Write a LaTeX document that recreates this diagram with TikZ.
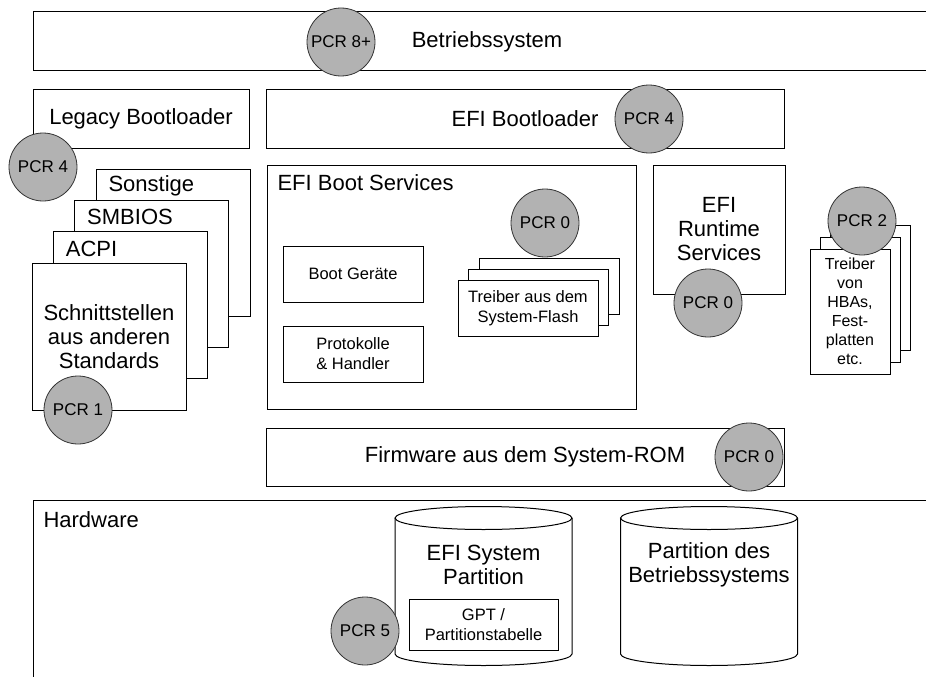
\documentclass[tikz,border=0pt]{standalone}
\usepackage{fontspec}
\setmainfont{Liberation Sans}

\tikzset{
  box/.style={draw, fill=white, line width=1pt, inner sep=0pt},
  pcr/.style={circle, draw=black!80, fill=gray!60, line width=0.8pt, minimum size=68pt, inner sep=0pt, font=\fontsize{17}{20}\selectfont},
  big/.style={font=\fontsize{22}{24}\selectfont, align=center},
  small/.style={font=\fontsize{16.5}{20}\selectfont, align=center},
  tiny/.style={font=\fontsize{16}{19}\selectfont, align=center}
}

\begin{document}
\begin{tikzpicture}[x=1pt, y=-1pt]
\useasboundingbox (0,0) rectangle (926,677);
\clip (0,0) rectangle (926,677);

\node[box, big, minimum width=908pt, minimum height=59pt] (os) at (487,41.5) {Betriebssystem};
\node[box, big, minimum width=216pt, minimum height=59pt] (legacy) at (141,118.5) {Legacy Bootloader};
\node[box, big, minimum width=518pt, minimum height=59pt] (efiboot) at (525,118.5) {EFI Bootloader};

\foreach \k/\txt in {0/Sonstige,1/SMBIOS,2/ACPI} {
  \node[box, minimum width=154pt, minimum height=147pt] (std\k) at (173-21.3*\k,242.5+31.3*\k) {};
  \node[big, anchor=west] (stdlabel\k) at (105-21.3*\k,186+31.3*\k) {\txt};
}
\node[box, big, minimum width=154pt, minimum height=147pt] (std3) at (109,336.5) {Schnittstellen\\aus anderen\\Standards};

\node[box, minimum width=369pt, minimum height=244pt] (bootsrv) at (451.5,287) {};
\node[big, anchor=west] (bootsrvlabel) at (274,183) {EFI Boot Services};
\node[box, small, minimum width=140pt, minimum height=56pt] (geraete) at (353,274) {Boot Geräte};
\node[box, small, minimum width=140pt, minimum height=56pt] (protokolle) at (353,354) {Protokolle\\\& Handler};
\foreach \k in {2,1} {\node[box, minimum width=140pt, minimum height=56pt] (flash\k) at (528+10.5*\k,308.5-11*\k) {};}
\node[box, small, minimum width=140pt, minimum height=56pt] (flash0) at (528,308.5) {Treiber aus dem\\System-Flash};

\node[box, big, minimum width=132pt, minimum height=129pt] (runtime) at (719,229.5) {EFI\\Runtime\\Services};

\foreach \k in {2,1} {\node[box, minimum width=80pt, minimum height=125pt] (hba\k) at (850+10*\k,311.5-12*\k) {};}
\node[box, tiny, minimum width=80pt, minimum height=125pt] (hba0) at (850,311.5) {Treiber\\von\\HBAs,\\Fest-\\platten\\etc.};

\node[box, big, minimum width=518pt, minimum height=58pt] (firmware) at (525,457) {Firmware aus dem System-ROM};

\node[box, minimum width=920pt, minimum height=200pt, anchor=north west] (hardware) at (33,500) {};
\node[big, anchor=west] (hwlabel) at (40,520) {Hardware};

\foreach \cx in {483.5,709} {
  \draw[line width=1pt] (\cx,518) ellipse[x radius=88.5pt, y radius=11.5pt];
  \draw[line width=1pt] (\cx-88.5,518) -- (\cx-88.5,654) arc[start angle=180, end angle=360, x radius=88.5pt, y radius=11.5pt] -- (\cx+88.5,518);
}
\node[big] (esplabel) at (483.5,565) {EFI System\\Partition};
\node[big] (ospartlabel) at (709,565) {Partition des\\Betriebssystems};
\node[box, small, minimum width=149pt, minimum height=51pt] (gpt) at (483.5,624.5) {GPT /\\Partitionstabelle};

\node[pcr] (pcros) at (341,42) {PCR 8+};
\node[pcr] (pcrlegacy) at (43,167) {PCR 4};
\node[pcr] (pcrefiboot) at (649,119) {PCR 4};
\node[pcr] (pcrstd) at (78,410) {PCR 1};
\node[pcr] (pcrbootsrv) at (545,223) {PCR 0};
\node[pcr] (pcrruntime) at (708,303) {PCR 0};
\node[pcr] (pcrhba) at (862,221) {PCR 2};
\node[pcr] (pcrfirmware) at (749,457) {PCR 0};
\node[pcr] (pcresp) at (365,631) {PCR 5};

\end{tikzpicture}
\end{document}
